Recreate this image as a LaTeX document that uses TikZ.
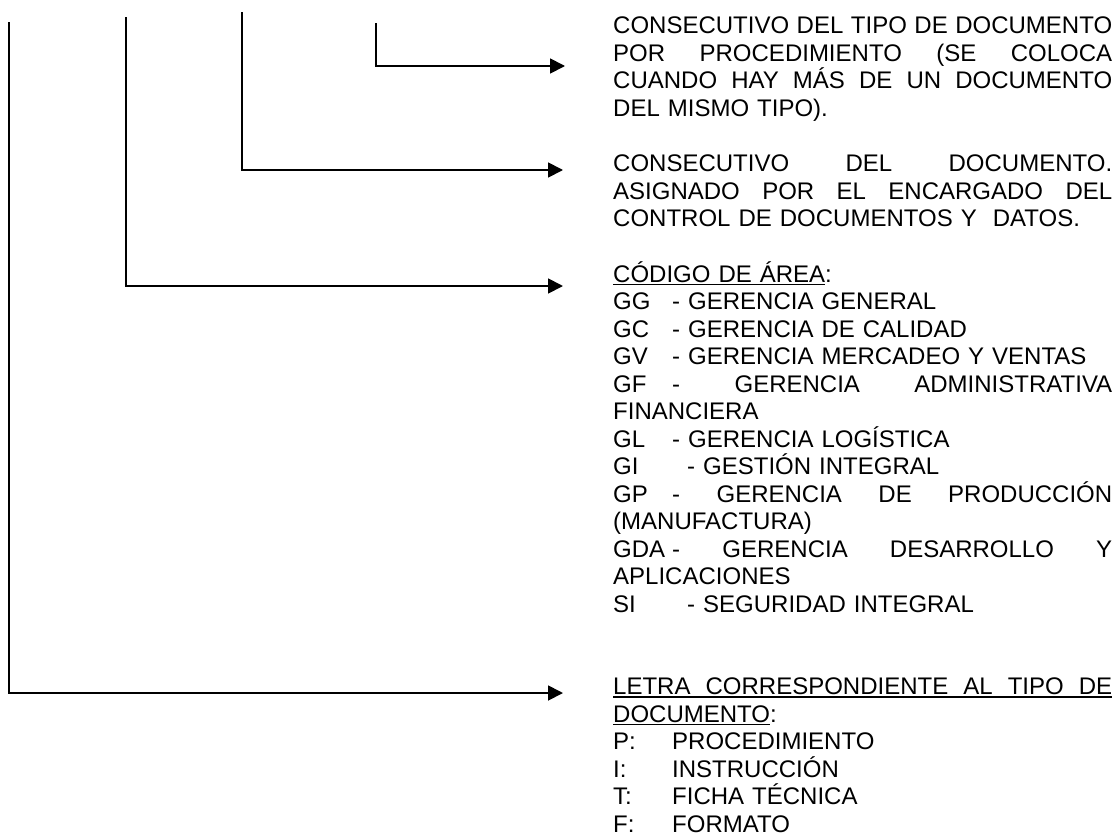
\documentclass[tikz,border=0pt]{standalone}
\usepackage{fontspec}
\setmainfont{Liberation Sans}
\usetikzlibrary{arrows.meta}

% width of the description column
\newlength\colw
\setlength\colw{499pt}
% a line spread over the full column width (justified line)
\newcommand\fillline[1]{\leavevmode\hbox to\colw{\spaceskip=.278em plus 1fill\relax #1}}
% underlined text
\newcommand\ulbox[1]{\leavevmode\setbox0\hbox{#1}\rlap{\rule[-3.2pt]{\wd0}{1.4pt}}\box0}
% a code set in a fixed-width slot (tab stop)
\newcommand\tabbed[2]{\leavevmode\hbox to #1{#2\hss}}

\tikzset{
  desc/.style={anchor=base west, inner sep=0pt, text width=\colw, align=left,
               font=\fontsize{24pt}{27.5pt}\selectfont},
  guide/.style={line width=1.8pt, -{Triangle[length=15pt,width=15pt]}},
}

\begin{document}
\begin{tikzpicture}[x=1pt,y=-1pt]
\useasboundingbox (0,0) rectangle (1115,835);

% description blocks
\node[desc] (consec) at (613,33.5) {%
\fillline{CONSECUTIVO DEL TIPO DE DOCUMENTO}\\
\fillline{POR PROCEDIMIENTO (SE COLOCA}\\
\fillline{CUANDO HAY MÁS DE UN DOCUMENTO}\\
DEL MISMO TIPO).};

\node[desc] (numero) at (613,171.5) {%
\fillline{CONSECUTIVO DEL DOCUMENTO.}\\
\fillline{ASIGNADO POR EL ENCARGADO DEL}\\
CONTROL DE DOCUMENTOS Y\ \ DATOS.};

\node[desc] (area) at (613,282) {%
\ulbox{CÓDIGO DE ÁREA}:\\
\tabbed{59pt}{GG}- GERENCIA GENERAL\\
\tabbed{59pt}{GC}- GERENCIA DE CALIDAD\\
\tabbed{59pt}{GV}- GERENCIA MERCADEO Y VENTAS\\
\fillline{\tabbed{59pt}{GF}- GERENCIA ADMINISTRATIVA}\\
FINANCIERA\\
\tabbed{59pt}{GL}- GERENCIA LOGÍSTICA\\
\tabbed{74pt}{GI}- GESTIÓN INTEGRAL\\
\fillline{\tabbed{59pt}{GP}- GERENCIA DE PRODUCCIÓN}\\
(MANUFACTURA)\\
\fillline{\tabbed{59pt}{GDA}- GERENCIA DESARROLLO Y}\\
APLICACIONES\\
\tabbed{74pt}{SI}- SEGURIDAD INTEGRAL};

\node[desc] (letra) at (613,694.5) {%
\ulbox{\fillline{LETRA CORRESPONDIENTE AL TIPO DE}}\\
\ulbox{DOCUMENTO}:\\
\tabbed{59pt}{P:}PROCEDIMIENTO\\
\tabbed{59pt}{I:}INSTRUCCIÓN\\
\tabbed{59pt}{T:}FICHA TÉCNICA\\
\tabbed{59pt}{F:}FORMATO};

% start points of the guide lines and their arrow tips
\coordinate (s1) at (9,22);    \coordinate (t1) at (563,693);
\coordinate (s2) at (126,17);  \coordinate (t2) at (563,286);
\coordinate (s3) at (242,12);  \coordinate (t3) at (563,170);
\coordinate (s4) at (376,23);  \coordinate (t4) at (565,66);

\draw[guide] (s1) |- (t1);
\draw[guide] (s2) |- (t2);
\draw[guide] (s3) |- (t3);
\draw[guide] (s4) |- (t4);
\end{tikzpicture}
\end{document}
